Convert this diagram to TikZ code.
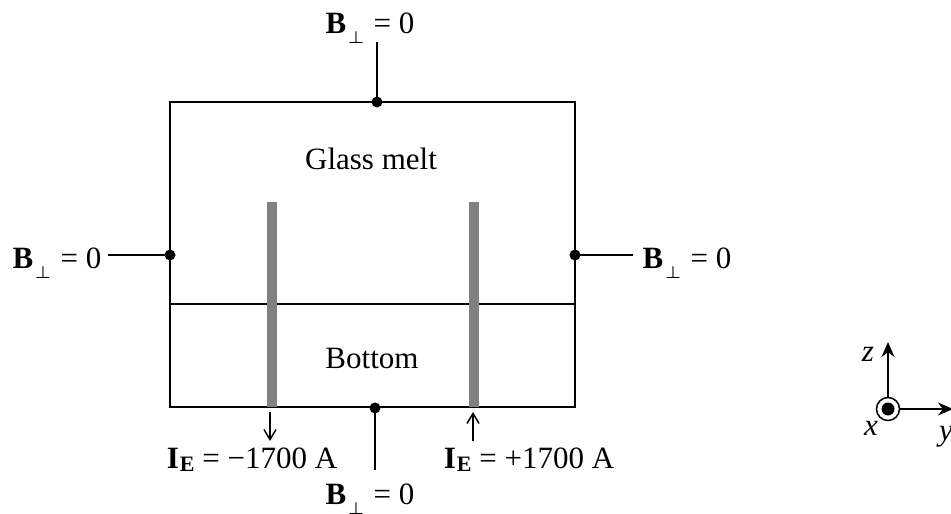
\documentclass[tikz,border=0pt]{standalone}
\usepackage{fontspec}
\setmainfont{Liberation Serif}
\usetikzlibrary{arrows.meta}
\newcommand{\Bperp}{{\bfseries B}\kern2pt\raisebox{-10pt}{\fontsize{19}{19}\selectfont\boldmath$\perp$}\kern2pt{} = 0}
\newcommand{\IE}{{\bfseries I\kern1pt\raisebox{-3pt}{\fontsize{22}{22}\selectfont E}}}
\begin{document}
\begin{tikzpicture}[x=1pt,y=-1pt,
  lbl/.style={font=\fontsize{31}{31}\selectfont, anchor=base, inner sep=0pt},
  ital/.style={font=\fontsize{31}{31}\selectfont\itshape, inner sep=0pt},
  wall/.style={line width=2.2pt},
  conn/.style={line width=1.6pt},
  dotmark/.style={circle, fill=black, inner sep=0pt, minimum size=11pt},
  electrode/.style={fill=black!50, draw=none},
  arr/.style={line width=1.5pt, -{Straight Barb[length=10pt,width=12pt,line width=1.5pt]}},
  axarr/.style={line width=1.7pt, -{Stealth[length=15pt,width=13pt]}}]
\useasboundingbox (0,0) rectangle (951,514);
% box
\draw[wall] (170,102) rectangle (575,407);
\draw[wall] (170,304) -- (575,304);
% electrodes
\fill[electrode] (266.5,202) rectangle (276.5,407);
\fill[electrode] (469,202) rectangle (479,407);
% texts
\node[lbl] (glass) at (371,169) {Glass melt};
\node[lbl] (bottom) at (372,368) {Bottom};
% boundary points
\node[dotmark] (dt) at (377,102) {};
\node[dotmark] (dl) at (170,255) {};
\node[dotmark] (dr) at (575,255) {};
\node[dotmark] (db) at (375,408) {};
\coordinate (ct) at (377,42);
\coordinate (cl) at (108,255);
\coordinate (cr) at (633,255);
\coordinate (cb) at (375,470);
\draw[conn] (dt.center) -- (ct);
\draw[conn] (dl.center) -- (cl);
\draw[conn] (dr.center) -- (cr);
\draw[conn] (db.center) -- (cb);
\node[lbl] (bt) at (370,33) {\Bperp};
\node[lbl] (bl) at (57,268) {\Bperp};
\node[lbl] (br) at (687,268) {\Bperp};
\node[lbl] (bb) at (370,504) {\Bperp};
% currents
\coordinate (al0) at (270,412);
\coordinate (al1) at (270,441);
\coordinate (ar0) at (473,441);
\coordinate (ar1) at (473,412);
\draw[arr] (al0) -- (al1);
\draw[arr] (ar0) -- (ar1);
\node[lbl] (il) at (252,468) {\IE{} = −1700 A};
\node[lbl] (ir) at (529,468) {\IE{} = +1700 A};
% axes
\node[circle, draw, line width=1.5pt, minimum size=23pt, inner sep=0pt] (o) at (888,409) {};
\fill (888,409) circle (6.5pt);
\coordinate (zt) at (888,342);
\coordinate (yt) at (953,409);
\draw[axarr] (o.north) -- (zt);
\draw[axarr] (o.east) -- (yt);
\node[ital] (zl) at (868,354) {z};
\node[ital] (xl) at (871,428) {x};
\node[ital] (yl) at (946,437) {y};
\end{tikzpicture}
\end{document}
